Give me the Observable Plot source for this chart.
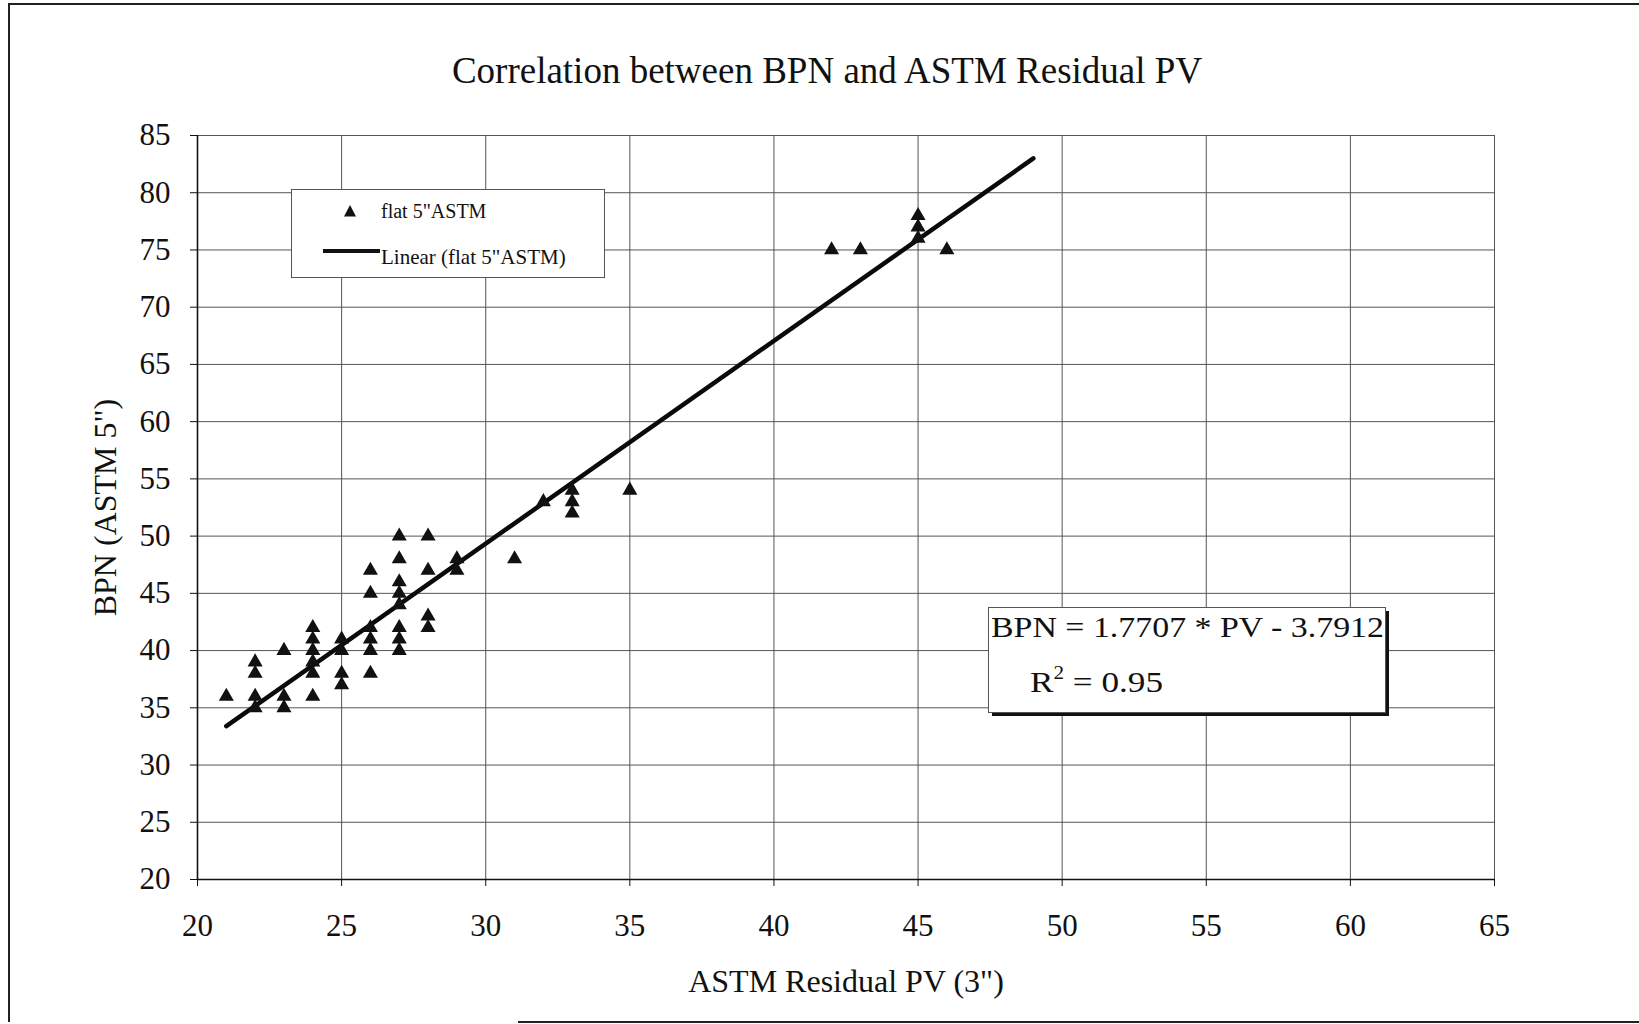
<!DOCTYPE html>
<html>
<head>
<meta charset="utf-8">
<script src="https://cdn.jsdelivr.net/npm/d3@7"></script>
<script src="https://cdn.jsdelivr.net/npm/@observablehq/plot@0.6"></script>
<style>
  html, body { margin: 0; padding: 0; background: #fff; }
  #wrap { position: relative; width: 1639px; height: 1024px; overflow: hidden; background: #fff;
          font-family: "Liberation Serif", "Times New Roman", serif; }
  #wrap svg text { font-family: "Liberation Serif", "Times New Roman", serif !important; }
  .frame { position: absolute; background: #222; }
  .box { position: absolute; }
</style>
</head>
<body>
<div id="wrap"></div>
<script>
// ---- data ----
const pvValues  = [21,22,22,22,22,23,23,23,24,24,24,24,24,24,25,25,25,25,26,26,26,26,26,26,27,27,27,27,27,27,27,27,28,28,28,28,29,29,31,32,33,33,33,35,42,43,45,45,45,46];
const bpnValues = [36,39,38,36,35,40,36,35,42,41,40,39,38,36,41,40,38,37,47,45,42,41,40,38,50,48,46,45,44,42,41,40,50,47,43,42,48,47,48,53,54,53,52,54,75,75,78,77,76,75];
const trendPV   = [21, 49];
const trendBPN  = [33.4, 83.0];
const xTicks = [20,25,30,35,40,45,50,55,60,65];
const yTicks = [20,25,30,35,40,45,50,55,60,65,70,75,80,85];
const titleText = "Correlation between BPN and ASTM Residual PV";
const xLabelText = "ASTM Residual PV (3\")";
const yLabelText = "BPN (ASTM 5\")";
const seriesName = "flat 5\"ASTM";
const trendName = "Linear (flat 5\"ASTM)";
const equationText = "BPN = 1.7707 * PV - 3.7912";
const r2Value = "0.95";

const points = pvValues.map((pv, i) => ({pv, bpn: bpnValues[i]}));
const trend = trendPV.map((pv, i) => ({pv, bpn: trendBPN[i]}));

const serif = '"Liberation Serif", "Times New Roman", serif';

const chart = Plot.plot({
  width: 1639,
  height: 1024,
  marginLeft: 197,
  marginRight: 145,
  marginTop: 135,
  marginBottom: 145,
  style: {fontFamily: serif, fontSize: "31px", color: "#111", background: "transparent", overflow: "visible"},
  x: {domain: [20, 65]},
  y: {domain: [20, 85]},
  marks: [
    Plot.gridX(xTicks, {stroke: "#555", strokeOpacity: 1, strokeWidth: 1}),
    Plot.gridY(yTicks, {stroke: "#555", strokeOpacity: 1, strokeWidth: 1}),
    Plot.ruleX([20], {stroke: "#111", strokeWidth: 1.6}),
    Plot.ruleY([20], {stroke: "#111", strokeWidth: 1.6}),
    Plot.axisX(xTicks, {tickSize: 7, tickPadding: 27, label: null, fontSize: 31, fontFamily: serif, stroke: "#111", fill: "#111"}),
    Plot.axisY(yTicks, {tickSize: 7, tickPadding: 20, label: null, fontSize: 31, fontFamily: serif, stroke: "#111", fill: "#111"}),
    Plot.line(trend, {x: "pv", y: "bpn", stroke: "#0a0a0a", strokeWidth: 4.5}),
    Plot.dot(points, {x: "pv", y: "bpn", symbol: "triangle", r: 5.6, fill: "#111", stroke: "none"}),
    Plot.text([titleText], {frameAnchor: "top", dy: -53, dx: -19, lineAnchor: "bottom", fontSize: 37, fontFamily: serif, fill: "#111"}),
    Plot.text([xLabelText], {frameAnchor: "bottom", dy: 112, lineAnchor: "bottom", fontSize: 32, fontFamily: serif, fill: "#111"}),
    Plot.text([yLabelText], {frameAnchor: "left", dx: -92, rotate: -90, textAnchor: "middle", fontSize: 32, fontFamily: serif, fill: "#111", letterSpacing: "1px"})
  ]
});
chart.style.position = "absolute";
chart.style.left = "0px";
chart.style.top = "0px";
chart.querySelectorAll("text").forEach(t => { t.style.fontFamily = serif; t.setAttribute("font-family", serif); });
const wrap = document.getElementById("wrap");
wrap.appendChild(chart);

// outer frame of the scanned page
function frameLine(l, t, w, h) {
  const d = document.createElement("div");
  d.className = "frame";
  Object.assign(d.style, {left: l + "px", top: t + "px", width: w + "px", height: h + "px"});
  wrap.appendChild(d);
}
frameLine(9, 3, 1630, 2);
frameLine(8, 3, 2, 1019);
frameLine(518, 1021, 1121, 2);

// legend box
const svgNS = "http://www.w3.org/2000/svg";
function el(tag, attrs, parent, text) {
  const e = document.createElementNS(svgNS, tag);
  for (const k in attrs) e.setAttribute(k, attrs[k]);
  if (text != null) e.textContent = text;
  if (parent) parent.appendChild(e);
  return e;
}
const leg = el("svg", {width: 314, height: 90});
leg.setAttribute("class", "box");
leg.style.left = "291px"; leg.style.top = "189px";
el("rect", {x: 0.5, y: 0.5, width: 313, height: 88, fill: "#fff", stroke: "#555", "stroke-width": 1}, leg);
el("path", {d: "M59,16 L65,27.5 L53,27.5 Z", fill: "#111"}, leg);
el("text", {x: 90, y: 29, "font-family": serif, "font-size": 20, fill: "#111"}, leg, seriesName);
el("line", {x1: 32, x2: 89, y1: 62, y2: 62, stroke: "#111", "stroke-width": 4}, leg);
el("text", {x: 90, y: 75, "font-family": serif, "font-size": 21, fill: "#111"}, leg, trendName);
wrap.appendChild(leg);

// equation box
const eq = el("svg", {width: 404, height: 114});
eq.setAttribute("class", "box");
eq.style.left = "987px"; eq.style.top = "606px";
el("rect", {x: 5, y: 5, width: 397, height: 105, fill: "#111"}, eq);
el("rect", {x: 1.5, y: 1.5, width: 397, height: 105, fill: "#fff", stroke: "#555", "stroke-width": 1}, eq);
el("text", {x: 4, y: 31, "font-family": serif, "font-size": 29, fill: "#111", textLength: 393, lengthAdjust: "spacingAndGlyphs"}, eq, equationText);
const t2 = el("text", {x: 43, y: 86, "font-family": serif, "font-size": 30, fill: "#111", textLength: 133, lengthAdjust: "spacingAndGlyphs"}, eq);
el("tspan", {}, t2, "R");
el("tspan", {dy: -13, "font-size": 18}, t2, "2");
el("tspan", {dy: 13}, t2, " = " + r2Value);
wrap.appendChild(eq);
</script>
</body>
</html>
